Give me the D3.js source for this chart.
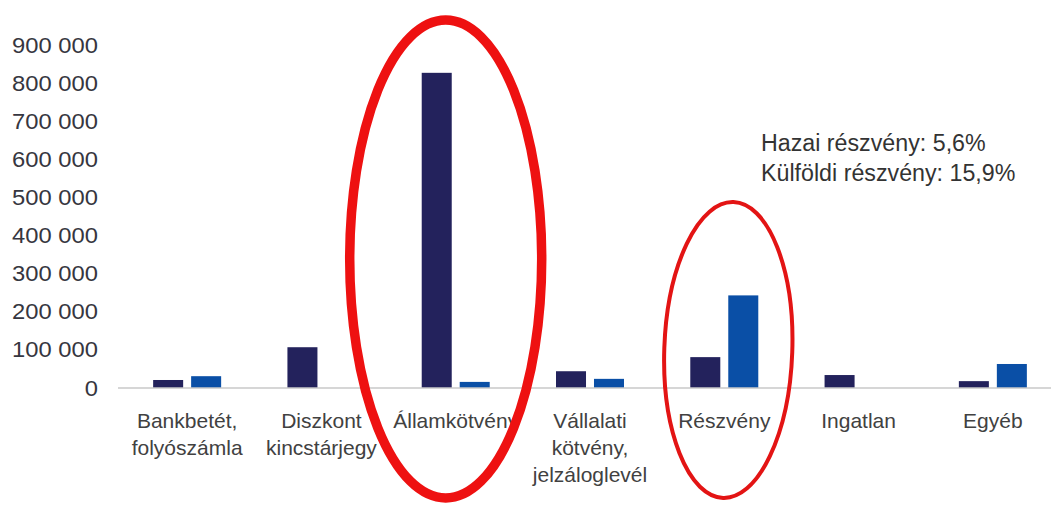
<!DOCTYPE html>
<html>
<head>
<meta charset="utf-8">
<script src="https://cdn.jsdelivr.net/npm/d3@7"></script>
<style>
  body { margin: 0; background: #fff; }
  svg { display: block; font-family: "Liberation Sans", Arial, sans-serif; }
</style>
</head>
<body>
<svg width="1051" height="507"></svg>
<script>
// categories, split into label lines
const categories = ["Bankbetét", "Diszkont", "Államkötvény", "Vállalati", "Részvény", "Ingatlan", "Egyéb"];
const categoryLines = [
    ["Bankbetét,", "folyószámla"],
    ["Diszkont", "kincstárjegy"],
    ["Államkötvény"],
    ["Vállalati", "kötvény,", "jelzáloglevél"],
    ["Részvény"],
    ["Ingatlan"],
    ["Egyéb"]
];
// two series, values
const seriesDark = [21000, 107000, 827000, 44000, 81000, 34000, 18000];
const seriesBlue = [31000, 0, 16000, 24000, 243000, 0, 63000];
const yTicks = [0, 100000, 200000, 300000, 400000, 500000, 600000, 700000, 800000, 900000];
const noteLines = ["Hazai részvény: 5,6%", "Külföldi részvény: 15,9%"];

const svg = d3.select("svg");

const x = d3.scaleBand()
    .domain(categories)
    .range([120, 1060]);

const inner = d3.scaleBand()
    .domain(["dark", "blue"])
    .range([-34, 34])
    .paddingInner(0.21);

const y = d3.scaleLinear()
    .domain([0, 900000])
    .range([388, 45]);

const colors = { dark: "#23225c", blue: "#0a4fa6" };

// stretch text a little, the source font is wider than Arial
function stretch(sel, k) {
    sel.each(function () {
        const w = this.getComputedTextLength();
        d3.select(this).attr("textLength", w * k).attr("lengthAdjust", "spacingAndGlyphs");
    });
}

// y axis labels only
const yAxis = svg.append("g")
    .attr("transform", "translate(98,0)")
    .call(d3.axisLeft(y)
        .tickValues(yTicks)
        .tickSize(0)
        .tickPadding(0)
        .tickFormat(d => d3.format(",")(d).replace(/,/g, " ")));
yAxis.select(".domain").remove();
yAxis.selectAll("text")
    .attr("fill", "#363640")
    .style("font-size", "22px")
    .call(stretch, 1.08);

// bars
const data = categories.map((c, i) => ({ cat: c, dark: seriesDark[i], blue: seriesBlue[i] }));
const groups = svg.selectAll(".grp")
    .data(data)
    .enter().append("g")
    .attr("class", "grp")
    .attr("transform", d => `translate(${x(d.cat) + x.bandwidth() / 2},0)`);

groups.selectAll("rect")
    .data(d => ["dark", "blue"].map(k => ({ key: k, value: d[k] })).filter(e => e.value > 0))
    .enter().append("rect")
    .attr("x", d => inner(d.key))
    .attr("y", d => y(d.value))
    .attr("width", inner.bandwidth())
    .attr("height", d => y(0) - y(d.value))
    .attr("fill", d => colors[d.key]);

// x axis: baseline and multi-line labels
const xAxis = svg.append("g")
    .attr("transform", `translate(0,${y(0)})`)
    .call(d3.axisBottom(x).tickSize(0).tickSizeOuter(0).tickFormat(""));
xAxis.select(".domain")
    .attr("stroke", "#c9c9c9")
    .attr("stroke-width", 1.5)
    .attr("d", "M118,0H1060");

svg.append("g").selectAll("text")
    .data(categories)
    .enter().append("text")
    .attr("x", d => x(d) + x.bandwidth() / 2)
    .attr("y", 428)
    .attr("text-anchor", "middle")
    .attr("fill", "#414141")
    .style("font-size", "21px")
    .each(function (d, i) {
        d3.select(this).selectAll("tspan")
            .data(categoryLines[i])
            .enter().append("tspan")
            .attr("x", x(d) + x.bandwidth() / 2)
            .attr("dy", (t, j) => j === 0 ? 0 : 27)
            .text(t => t);
    });

// note
svg.append("g").selectAll("text")
    .data(noteLines)
    .enter().append("text")
    .attr("x", 761)
    .attr("y", (d, i) => 151 + i * 30)
    .attr("fill", "#333")
    .style("font-size", "23px")
    .text(d => d)
    .call(stretch, 1.01);

// red highlight ellipses
svg.append("ellipse")
    .attr("cx", x("Államkötvény") + x.bandwidth() / 2 - 10)
    .attr("cy", 259)
    .attr("rx", 96)
    .attr("ry", 239)
    .attr("fill", "none")
    .attr("stroke", "#ee1111")
    .attr("stroke-width", 9.5);

const rx0 = x("Részvény") + x.bandwidth() / 2 + 4;
svg.append("ellipse")
    .attr("cx", rx0)
    .attr("cy", 350)
    .attr("rx", 64)
    .attr("ry", 148)
    .attr("transform", `rotate(2,${rx0},350)`)
    .attr("fill", "none")
    .attr("stroke", "#e31414")
    .attr("stroke-width", 4);
</script>
</body>
</html>
